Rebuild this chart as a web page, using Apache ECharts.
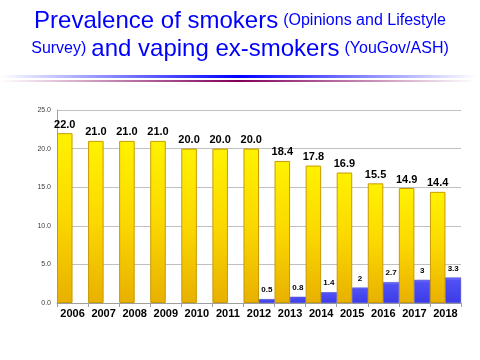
<!DOCTYPE html>
<html>
<head>
<meta charset="utf-8">
<script src="https://cdn.jsdelivr.net/npm/echarts@6/dist/echarts.min.js"></script>
<style>html,body{margin:0;padding:0;background:#fff}#c{width:480px;height:360px}</style>
</head>
<body>
<div id="c"></div>
<script>
const years = ['2006','2007','2008','2009','2010','2011','2012','2013','2014','2015','2016','2017','2018'];
const smokers = [22.0, 21.0, 21.0, 21.0, 20.0, 20.0, 20.0, 18.4, 17.8, 16.9, 15.5, 14.9, 14.4];
const vapers = [null, null, null, null, null, null, 0.5, 0.8, 1.4, 2, 2.7, 3, 3.3];
const yTicks = [0, 5, 10, 15, 20, 25];

const chart = echarts.init(document.getElementById('c'), null, {renderer: 'canvas'});
const G = echarts.graphic;
const FF = 'Liberation Sans, Arial, sans-serif';
chart.setOption({
  backgroundColor: '#ffffff',
  animation: false,
  title: {
    left: 'center',
    top: 7,
    padding: 0,
    text: '{a|Prevalence of smokers} {b|(Opinions and Lifestyle}\n{b|Survey)} {a|and vaping ex-smokers} {b|(YouGov/ASH)}',
    textStyle: {
      color: '#0000ff',
      fontWeight: 'normal',
      fontFamily: FF,
      align: 'center',
      rich: {
        a: {fontSize: 24, color: '#0000ff', fontWeight: 'normal', fontFamily: FF, lineHeight: 28},
        b: {fontSize: 16, color: '#0000ff', fontWeight: 'normal', fontFamily: FF, lineHeight: 28}
      }
    }
  },
  graphic: [
    {type: 'rect', left: 0, top: 75, shape: {width: 476, height: 3}, style: {fill: new G.LinearGradient(0,0,1,0,[{offset:0,color:'rgba(0,0,255,0)'},{offset:0.5,color:'rgba(0,0,255,1)'},{offset:1,color:'rgba(0,0,255,0)'}])}},
    {type: 'rect', left: 0, top: 80, shape: {width: 476, height: 2}, style: {fill: new G.LinearGradient(0,0,1,0,[{offset:0,color:'rgba(128,0,90,0)'},{offset:0.5,color:'rgba(128,0,90,1)'},{offset:1,color:'rgba(128,0,90,0)'}])}}
  ],
  grid: {left: 57, right: 19, top: 110, bottom: 57},
  xAxis: {
    type: 'category',
    data: years,
    axisLine: {lineStyle: {color: '#a0a0a0'}},
    axisTick: {show: true, length: 4, lineStyle: {color: '#a0a0a0'}},
    axisLabel: {interval: 0, color: '#000', fontWeight: 'bold', fontSize: 11, margin: 5, fontFamily: FF}
  },
  yAxis: {
    type: 'value',
    min: 0, max: 25, interval: 5,
    axisLine: {show: true, lineStyle: {color: '#a0a0a0'}},
    axisTick: {show: false},
    splitLine: {lineStyle: {color: '#c0c0c0'}},
    axisLabel: {color: '#404040', fontSize: 7, margin: 6, fontFamily: FF,
      formatter: v => yTicks.includes(v) ? v.toFixed(1) : ''}
  },
  series: [
    {
      type: 'bar', data: smokers, barGap: '0%', barCategoryGap: '0%',
      itemStyle: {
        color: new G.LinearGradient(0,0,0,1,[{offset:0,color:'#fff200'},{offset:0.5,color:'#fbd800'},{offset:1,color:'#e8b000'}]),
        borderColor: '#c89a00', borderWidth: 1
      },
      label: {show: true, position: 'top', distance: 3, color: '#000', fontWeight: 'bold', fontSize: 11,
        fontFamily: FF, formatter: p => p.value.toFixed(1)}
    },
    {
      type: 'bar', data: vapers,
      itemStyle: {
        color: new G.LinearGradient(0,0,0,1,[{offset:0,color:'#7878ff'},{offset:0.12,color:'#5050f5'},{offset:1,color:'#3c3ce8'}]),
        borderColor: '#3030c0', borderWidth: 0.5
      },
      label: {show: true, position: 'top', distance: 5, color: '#000', fontWeight: 'bold', fontSize: 8,
        fontFamily: FF, formatter: p => String(p.value)}
    }
  ]
});
</script>
</body>
</html>
